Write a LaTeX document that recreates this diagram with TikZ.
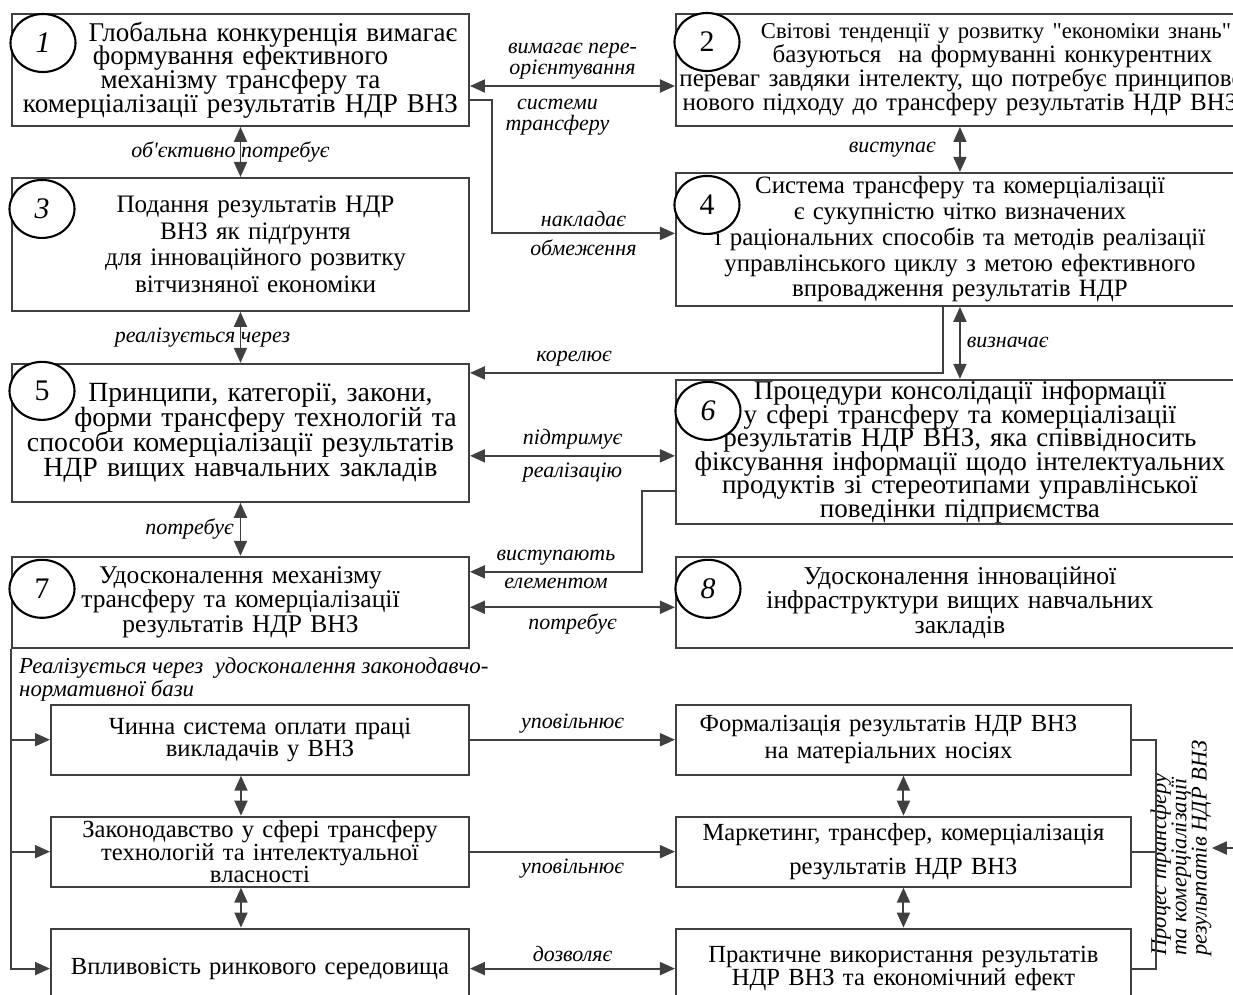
\documentclass[tikz,border=0pt]{standalone}
\usepackage{fontspec}
\setmainfont{Liberation Serif}[Ligatures=TeXOff]
\usepackage{xcolor}
\usepackage{tikz}
\usetikzlibrary{arrows.meta,positioning,shapes.geometric}

\definecolor{linegray}{HTML}{404040}
% size and line distance of the box texts
\newcommand{\boxfont}[2]{\fontsize{#1pt}{#2pt}\selectfont\lineskiplimit=-20pt\lineskip=0pt}
\newcommand{\lblfont}{\itshape\fontsize{12.5pt}{12pt}\selectfont}

\begin{document}
\begin{tikzpicture}[
    >={Triangle[length=0.3cm,width=0.26cm]},
    link/.style={draw=linegray,line width=1.1pt},
    box/.style={rectangle,draw=linegray,line width=1.1pt,align=center,inner xsep=2pt,inner ysep=0pt},
    lbox/.style={box,text width=9.0cm},
    rbox/.style={box,text width=11.22cm},
    slbox/.style={box,text width=8.22cm,minimum height=1.4cm},
    srbox/.style={box,text width=8.96cm,minimum height=1.4cm},
    numc/.style={ellipse,draw=black,line width=1.2pt,fill=white,minimum width=1.3cm,minimum height=1.16cm,inner sep=0pt,font=\fontsize{17pt}{17pt}\selectfont},
    lbl/.style={align=center,font=\lblfont}
]
\useasboundingbox (0,0) rectangle (24.66,-19.88);

% left column
\node[lbox,font=\boxfont{15.4}{13.5},minimum height=2.24cm,anchor=north west] (box1) at (0.22,-0.26)
  {\hspace*{1.3cm}Глобальна конкуренція вимагає\\формування ефективного\\механізму трансферу та\\комерціалізації результатів НДР ВНЗ};
\node[lbox,font=\boxfont{14.3}{15.2},minimum height=2.66cm,below=1.0cm of box1] (box3)
  {\hspace*{0.6cm}Подання результатів НДР\\\hspace*{0.6cm}ВНЗ як підґрунтя\\\hspace*{0.6cm}для інноваційного розвитку\\\hspace*{0.6cm}вітчизняної економіки};
\node[lbox,font=\boxfont{15.8}{14.2},minimum height=2.76cm,below=1.02cm of box3] (box5)
  {\hspace*{0.8cm}Принципи, категорії, закони,\\\hspace*{1.0cm}форми трансферу технологій та\\способи комерціалізації результатів\\НДР вищих навчальних закладів};
\node[lbox,font=\boxfont{14.5}{13.7},minimum height=1.82cm,below=1.06cm of box5] (box7)
  {Удосконалення механізму\\трансферу та комерціалізації\\результатів НДР ВНЗ};

% right column
\node[rbox,font=\boxfont{14.2}{13.7},minimum height=2.24cm,right=4.1cm of box1] (box2)
  {\mbox{\hspace*{1.44cm}\fontsize{12.9pt}{13.7pt}\selectfont Світові тенденції у розвитку "економіки знань"}\\\mbox{\hspace*{1.3cm}базуються\ \ на формуванні конкурентних}\\\mbox{переваг завдяки інтелекту, що потребує принципово}\\\mbox{нового підходу до трансферу результатів НДР ВНЗ}};
\node[rbox,font=\boxfont{14.2}{14.65},minimum height=2.66cm,below=0.9cm of box2] (box4)
  {Система трансферу та комерціалізації\\є сукупністю чітко визначених\\і раціональних способів та методів реалізації\\управлінського циклу з метою ефективного\\впровадження результатів НДР};
\node[rbox,font=\boxfont{15.4}{13.4},minimum height=2.88cm,below=1.44cm of box4] (box6)
  {Процедури консолідації інформації\\у сфері трансферу та комерціалізації\\результатів НДР ВНЗ, яка співвідносить\\фіксування інформації щодо інтелектуальних\\продуктів зі стереотипами управлінської\\поведінки підприємства};
\node[rbox,font=\boxfont{14.6}{13.9},minimum height=1.82cm,right=4.1cm of box7] (box8)
  {Удосконалення інноваційної\\інфраструктури вищих навчальних\\закладів};

% lower part
\node[slbox,font=\boxfont{14}{12.5},below right=1.1cm and 0.78cm of box7.south west] (box9)
  {Чинна система оплати праці\\викладачів у ВНЗ};
\node[slbox,font=\boxfont{14}{12.8},below=0.8cm of box9] (box10)
  {Законодавство у сфері трансферу\\технологій та інтелектуальної\\власності};
\node[slbox,font=\boxfont{14}{13},minimum height=1.6cm,below=0.8cm of box10] (box11)
  {Впливовість ринкового середовища};
\node[srbox,font=\boxfont{14}{15.4},right=4.1cm of box9] (box12)
  {\hspace*{-0.6cm}Формалізація результатів НДР ВНЗ\\\hspace*{-0.6cm}на матеріальних носіях};
\node[srbox,font=\boxfont{14}{19.5},right=4.1cm of box10] (box13)
  {Маркетинг, трансфер, комерціалізація\\результатів НДР ВНЗ};
\node[srbox,font=\boxfont{14}{13.1},minimum height=1.6cm,right=4.1cm of box11] (box14)
  {Практичне використання результатів\\НДР ВНЗ та економічний ефект};

\node[lbl,align=left,font=\itshape\fontsize{13pt}{13pt}\selectfont,anchor=north west] (note7) at ([shift={(0.04,-0.06)}]box7.south west)
  {Реалізується через\ \ удосконалення законодавчо-\\нормативної бази};
\node[lbl,align=left,rotate=90,inner sep=0pt,font=\itshape\fontsize{12.8pt}{11.5pt}\selectfont] (proc) at (23.62,-16.96)
  {Процес трансферу\\та комерціалізації\\результатів НДР ВНЗ};

% numbers
\node[numc] (n1) at ([shift={(0.64,-0.6)}]box1.north west) {\textit{1}};
\node[numc] (n2) at ([shift={(0.64,-0.58)}]box2.north west) {2};
\node[numc] (n3) at ([shift={(0.62,-0.64)}]box3.north west) {\textit{3}};
\node[numc] (n4) at ([shift={(0.64,-0.66)}]box4.north west) {4};
\node[numc] (n5) at ([shift={(0.62,-0.56)}]box5.north west) {5};
\node[numc] (n6) at ([shift={(0.66,-0.64)}]box6.north west) {\textit{6}};
\node[numc] (n7) at ([shift={(0.62,-0.66)}]box7.north west) {7};
\node[numc] (n8) at ([shift={(0.66,-0.66)}]box8.north west) {\textit{8}};

% connectors, upper part
\draw[link,<->] ([yshift=-1.46cm]box1.north east) -- ([yshift=-1.46cm]box2.north west)
  node[midway,above,lbl]{вимагає пере-\\орієнтування}
  node[midway,below,lbl,yshift=-0.12cm,xshift=-0.3cm]{системи\\трансферу};
\draw[link,->] ([yshift=-0.6cm]box1.east) -- ++(0.44,0) |- ([yshift=0.12cm]box4.west)
  node[pos=0.75,above,lbl]{накладає} node[pos=0.75,below,lbl]{обмеження};
\draw[link,<->] (box1) -- (box3) node[midway,lbl,xshift=-0.2cm]{об'єктивно потребує};
\draw[link,<->] (box2) -- (box4) node[midway,left=0.35cm,lbl]{виступає};
\draw[link,<->] (box3) -- (box5) node[midway,lbl,xshift=-0.76cm]{реалізується через};
\draw[link,->] ([xshift=-0.34cm]box4.south) |- ([yshift=-0.2cm]box5.north east)
  node[pos=0.89,above,lbl]{корелює};
\draw[link,<->] (box4) -- (box6) node[midway,right,lbl]{визначає};
\coordinate (m56) at ([yshift=-0.08cm]box6.west);
\draw[link,<->] (box5.east |- m56) -- (m56)
  node[midway,above,lbl]{підтримує} node[midway,below,lbl]{реалізацію};
\draw[link,<->] (box5) -- (box7) node[midway,left,lbl]{потребує};
\draw[link,->] ([yshift=-0.78cm]box6.west) -- ++(-0.66,0) |- ([yshift=-0.32cm]box7.north east)
  node[pos=0.75,above,lbl]{виступають} node[pos=0.75,below,lbl]{елементом};
\draw[link,<->] ([yshift=-0.1cm]box7.east) -- ([yshift=-0.1cm]box8.west)
  node[midway,below,lbl]{потребує};

% connectors, lower part
\draw[link,->] (box7.south west) |- (box9.west);
\draw[link,->] (box7.south west) |- (box10.west);
\draw[link,->] (box7.south west) |- (box11.west);
\draw[link,->] (box9) -- (box12) node[midway,above,lbl]{уповільнює};
\draw[link,->] (box10) -- (box13) node[midway,below,lbl]{уповільнює};
\draw[link,<->] (box11) -- (box14) node[midway,above,lbl]{дозволяє};
\draw[link,<->] ([xshift=-0.38cm]box9.south) -- ([xshift=-0.38cm]box10.north);
\draw[link,<->] ([xshift=-0.38cm]box10.south) -- ([xshift=-0.38cm]box11.north);
\draw[link,<->] (box12) -- (box13);
\draw[link,<->] (box13) -- (box14);
\draw[link] (box12.east) -- ++(0.48,0) |- (box14.east);
\draw[link] (box13.east) -- ++(0.48,0);
\coordinate (procin) at (24.8,-16.96);
\draw[link,->] (procin) -- (proc.south);
\end{tikzpicture}
\end{document}
